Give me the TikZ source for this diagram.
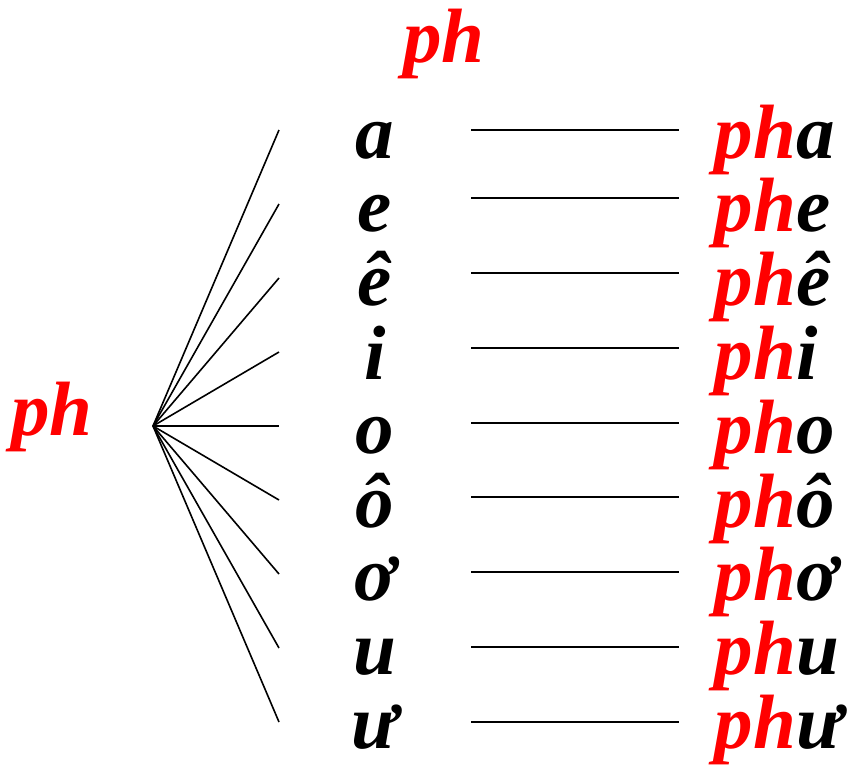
\documentclass[tikz,border=0pt]{standalone}
\usepackage{fontspec}
\setmainfont{Liberation Serif}
\usepackage{tikz}
\usetikzlibrary{positioning}
\usepackage{xcolor}
\tikzset{
  letter/.style={font=\fontsize{77}{84}\selectfont\bfseries\itshape, inner sep=0pt, anchor=base},
}

\begin{document}
\begin{tikzpicture}[x=1pt, y=-1pt, line width=1.6pt]
\useasboundingbox (0,0) rectangle (856,764);
\node[letter, red] (onsettop) at (444,62) {ph};
\node[letter, red] (onset) at (52,435) {ph};
\coordinate (fan) at (153,426);
\foreach \v/\ty/\hy [count=\i] in {a/130/130, e/204/198, ê/278/273, i/352/348, o/426/423, ô/500/497, ơ/574/572, u/648/647, ư/722/722} {
  \coordinate (tip\i) at (279,\ty);
  \draw (fan) -- (tip\i);
  \node[letter] (vowel\i) at (375,{158+73.8*(\i-1)}) {\v};
  \coordinate (from\i) at (471,\hy);
  \coordinate (to\i) at (679,\hy);
  \draw (from\i) -- (to\i);
  \node[letter, anchor=base west] (syll\i) at (714,{158+73.8*(\i-1)}) {\textcolor{red}{ph}\v};
}
\end{tikzpicture}
\end{document}
